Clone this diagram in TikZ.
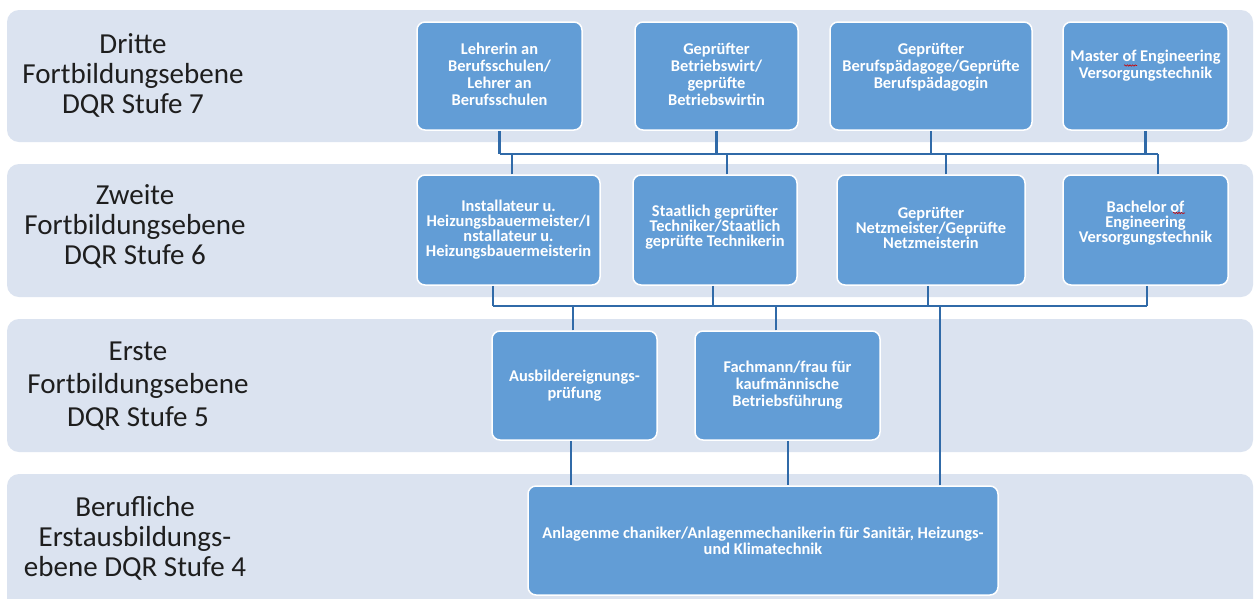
\documentclass[tikz,border=0pt]{standalone}
\usepackage{fontspec}
\setmainfont{Carlito}
\usetikzlibrary{decorations.pathmorphing}
\definecolor{bandcol}{RGB}{219,227,240}
\definecolor{boxcol}{RGB}{98,157,214}
\definecolor{linkcol}{RGB}{48,106,168}
\definecolor{lvltext}{RGB}{30,30,30}
\begin{document}
\begin{tikzpicture}[x=1pt,y=-1pt,
  bandbox/.style={fill=bandcol, rounded corners=12pt},
  lvl/.style={align=center, text=lvltext, inner sep=0pt, font=\fontsize{29}{30}\selectfont},
  blk/.style={draw=white, line width=1.5pt, fill=boxcol, rounded corners=8pt, inner sep=0pt},
  txt/.style={align=center, text=white, inner sep=0pt, font=\bfseries\fontsize{16.4}{17}\selectfont},
  txttight/.style={txt, font=\bfseries\fontsize{16.4}{15}\selectfont},
  link/.style={draw=linkcol, line width=2.2pt},
  squiggle/.style={draw=red!80!black, line width=0.6pt, decorate, decoration={snake, amplitude=0.7pt, segment length=2.6pt}}
]
\useasboundingbox (0,0) rectangle (1255,598);
\clip (0,0) rectangle (1255,598);
\fill[white] (0,0) rectangle (1255,598);

% bands
\fill[bandbox] (7,10) rectangle (1253,142);
\fill[bandbox] (7,164) rectangle (1253,297);
\fill[bandbox] (7,319) rectangle (1253,452);
\fill[bandbox] (7,474) rectangle (1253,620);

% level labels
\node[lvl] (l7) at (133,75) {Dritte\\Fortbildungsebene\\DQR Stufe 7};
\node[lvl] (l6) at (135,226) {Zweite\\Fortbildungsebene\\DQR Stufe 6};
\node[lvl, font=\fontsize{29}{33}\selectfont] (l5) at (138,386) {Erste\\Fortbildungsebene\\DQR Stufe 5};
\node[lvl] (l4) at (135,538) {Berufliche\\Erstausbildungs-\\ebene DQR Stufe 4};

% row 1 boxes
\node[blk, minimum width=165pt, minimum height=108pt] (a7) at (499.5,76) {};
\node[blk, minimum width=163pt, minimum height=108pt] (b7) at (716.5,76) {};
\node[blk, minimum width=202pt, minimum height=108pt] (c7) at (931,76) {};
\node[blk, minimum width=165pt, minimum height=108pt] (d7) at (1145.5,76) {};
% row 2 boxes
\node[blk, minimum width=183pt, minimum height=110pt] (a6) at (508.5,230) {};
\node[blk, minimum width=164pt, minimum height=110pt] (b6) at (715,230) {};
\node[blk, minimum width=188pt, minimum height=110pt] (c6) at (931,230) {};
\node[blk, minimum width=165pt, minimum height=110pt] (d6) at (1145.5,230) {};
% row 3 boxes
\node[blk, minimum width=165pt, minimum height=109pt] (a5) at (574.5,385.5) {};
\node[blk, minimum width=185pt, minimum height=109pt] (b5) at (787.5,385.5) {};
% row 4 box
\node[blk, minimum width=470pt, minimum height=109pt] (a4) at (763,540.5) {};

% box texts
\node[txt, yshift=2pt] (ta7) at (a7.center) {Lehrerin an\\Berufsschulen/\\Lehrer an\\Berufsschulen};
\node[txt, yshift=2pt] (tb7) at (b7.center) {Geprüfter\\Betriebswirt/\\geprüfte\\Betriebswirtin};
\node[txt, yshift=9pt] (tc7) at (c7.center) {Geprüfter\\Berufspädagoge/Geprüfte\\Berufspädagogin};
\node[txt, yshift=10pt] (td7) at (d7.center) {Master of Engineering\\Versorgungstechnik};
\node[txttight, yshift=0pt] (ta6) at (a6.center) {Installateur u.\\Heizungsbauermeister/I\\nstallateur u.\\Heizungsbauermeisterin};
\node[txttight, yshift=3pt] (tb6) at (b6.center) {Staatlich geprüfter\\Techniker/Staatlich\\geprüfte Technikerin};
\node[txttight, yshift=2pt] (tc6) at (c6.center) {Geprüfter\\Netzmeister/Geprüfte\\Netzmeisterin};
\node[txttight, yshift=7pt] (td6) at (d6.center) {Bachelor of\\Engineering\\Versorgungstechnik};
\node[txt] (ta5) at (a5.center) {Ausbildereignungs-\\prüfung};
\node[txt] (tb5) at (b5.center) {Fachmann/frau für\\kaufmännische\\Betriebsführung};
\node[txt, font=\bfseries\fontsize{16.4}{16}\selectfont] (ta4) at (a4.center) {Anlagenme chaniker/Anlagenmechanikerin für Sanitär, Heizungs-\\und Klimatechnik};

% bus coordinates
\coordinate (busA) at (0,154);
\coordinate (busB) at (0,306);

% upper connectors
\draw[link] (a7.south) -- (a7.south |- busA);
\draw[link] (b7.south) -- (b7.south |- busA);
\draw[link] (c7.south) -- (c7.south |- busA);
\draw[link] (d7.south) -- (d7.south |- busA);
\draw[link] (a7.south |- busA) -- ([xshift=12.5pt]d6.north |- busA);
\draw[link] ([xshift=3.5pt]a6.north) -- ([xshift=3.5pt]a6.north |- busA);
\draw[link] ([xshift=12pt]b6.north) -- ([xshift=12pt]b6.north |- busA);
\draw[link] ([xshift=15pt]c6.north) -- ([xshift=15pt]c6.north |- busA);
\draw[link] ([xshift=12.5pt]d6.north) -- ([xshift=12.5pt]d6.north |- busA);

% lower connectors
\draw[link] ([xshift=-15.5pt]a6.south) -- ([xshift=-15.5pt]a6.south |- busB);
\draw[link] ([xshift=-2pt]b6.south) -- ([xshift=-2pt]b6.south |- busB);
\draw[link] ([xshift=-3pt]c6.south) -- ([xshift=-3pt]c6.south |- busB);
\draw[link] ([xshift=1.5pt]d6.south) -- ([xshift=1.5pt]d6.south |- busB);
\draw[link] ([xshift=-15.5pt]a6.south |- busB) -- ([xshift=1.5pt]d6.south |- busB);
\draw[link] ([xshift=-1.5pt]a5.north) -- ([xshift=-1.5pt]a5.north |- busB);
\draw[link] ([xshift=-11.5pt]b5.north) -- ([xshift=-11.5pt]b5.north |- busB);
\draw[link] ([xshift=177pt]a4.north) -- ([xshift=177pt]a4.north |- busB);
\draw[link] ([xshift=-3.5pt]a5.south) -- ([xshift=-3.5pt]a5.south |- a4.north);
\draw[link] ([xshift=0.5pt]b5.south) -- ([xshift=0.5pt]b5.south |- a4.north);

% spell-check squiggles
\draw[squiggle] (1124,65.5) -- (1137,65.5);
\draw[squiggle] (1173,213) -- (1185,213);
\end{tikzpicture}
\end{document}
